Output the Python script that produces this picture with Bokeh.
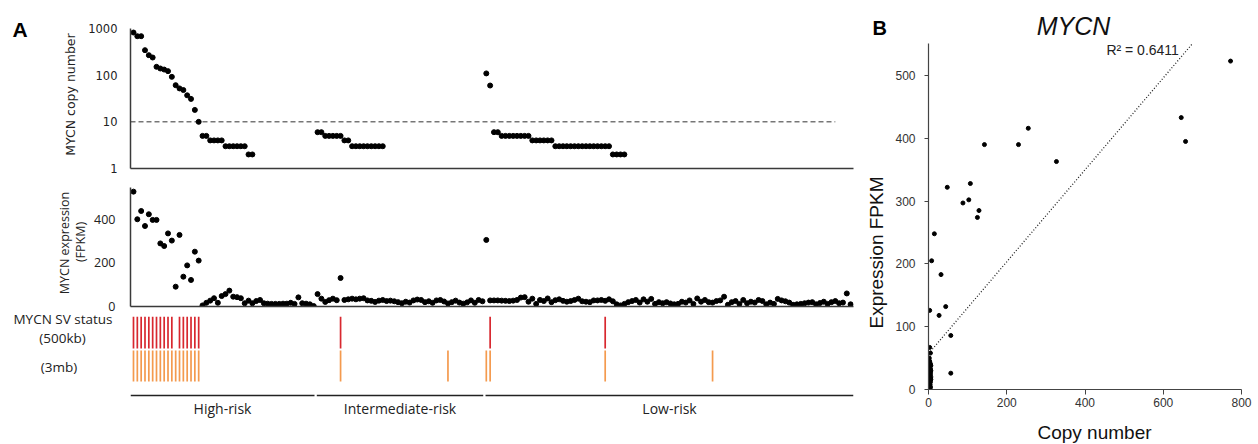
import math
from bokeh.plotting import figure
from bokeh.layouts import row, column
from bokeh.models import Range1d, FixedTicker, PrintfTickFormatter, GridBox
from bokeh.embed import file_html
from bokeh.resources import INLINE
from bokeh.core.properties import value

NAN = float("nan")

# ---------------- data : panel A ----------------
groups = ["High-risk", "Intermediate-risk", "Low-risk"]
group_sizes = [48, 44, 96]

# MYCN copy number per sample (samples without a shown value are left out)
cn_high = [820, 684, 684, 343, 268, 239, 151, 139, 132, 122, 92, 61, 52, 48, 37, 31,
           18, 10, 5, 5, 4, 4, 4, 4, 3, 3, 3, 3, 3, 3, 2, 2]
cn_inter = [6, 6, 5, 5, 5, 5, 5, 4, 4, 3, 3, 3, 3, 3, 3, 3, 3, 3]
cn_low = [109, 60, 6, 6, 5, 5, 5, 5, 5, 5, 5, 5, 4, 4, 4, 4, 4, 4,
          3, 3, 3, 3, 3, 3, 3, 3, 3, 3, 3, 3, 3, 3, 3, 2, 2, 2, 2]

# MYCN expression (FPKM) per sample
expr_high = [528, 401, 439, 370, 424, 398, 398, 290, 278, 336, 303, 91, 329, 137, 189, 122,
             252, 211, 5, 17, 27, 38, 17, 48, 57, 73, 45, 43, 38, 15, 27, 15, 25, 30, 15, 13,
             12, 12, 12, 13, 13, 17, 12, 42, 15, 13, 10, 2]
expr_inter = [57, 36, 21, 29, 36, 29, 131, 30, 33, 36, 33, 36, 38, 28, 26, 21, 27, 30, 25, 27,
              24, 20, 15, 22, 18, 28, 32, 30, 20, 24, 17, 28, 30, 23, 14, 20, 27, 18, 13, 19,
              28, 17, 30, 24]
expr_low = [306, 28, 28, 28, 27, 26, 25, 27, 30, 41,
            43, 22, 36, 12, 30, 25, 37, 20, 29, 33,
            26, 22, 25, 30, 36, 24, 22, 20, 28, 28,
            30, 26, 33, 24, 10, 5, 12, 20, 25, 30,
            18, 33, 22, 35, 12, 20, 15, 20, 14, 10,
            12, 22, 18, 28, 12, 37, 22, 30, 20, 18,
            25, 28, 45, 8, 20, 25, 12, 30, 15, 22,
            18, 30, 25, 10, 18, 12, 35, 28, 24, 18,
            8, 10, 12, 15, 18, 20, 10, 16, 22, 12,
            20, 25, 15, 18, 60, 10]

# sample indices with a MYCN structural variant
sv_500kb = [0, 1, 2, 3, 4, 5, 6, 7, 8, 9, 10, 12, 13, 14, 15, 16, 17, 54, 93, 123]
sv_3mb = [0, 1, 2, 3, 4, 5, 6, 7, 8, 9, 10, 11, 12, 13, 14, 15, 16, 17, 54, 82, 92, 93, 123, 151]

cn_threshold = 10
cn_ticks = [1, 10, 100, 1000]
expr_ticks = [0, 200, 400]

# ---------------- data : panel B ----------------
b_copy = [772, 646, 657, 255, 230, 143, 327, 48, 107, 88, 103, 129, 125, 15, 8, 32, 3, 44, 27,
          57, 57,
          3, 5, 2, 3, 4, 2, 6, 3, 4, 5, 2, 3, 4, 5, 3, 2, 4, 6, 3, 5, 2, 4, 3, 5, 2, 4, 6, 5,
          6, 3, 4, 2, 5]
b_expr = [523, 433, 395, 416, 390, 390, 363, 322, 328, 297, 302, 285, 274, 248, 205, 183, 126,
          132, 118, 86, 26,
          67, 58, 50, 45, 42, 40, 38, 36, 34, 32, 30, 28, 26, 24, 22, 20, 18, 16, 14, 12, 10, 8,
          6, 4, 3, 2, 30, 40, 20, 33, 15, 25, 28]
trend_slope = 0.732
trend_intercept = 57
r2_text = "R\u00b2 = 0.6411"
b_x_ticks = [0, 200, 400, 600, 800]
b_y_ticks = [0, 100, 200, 300, 400, 500]

# ---------------- assemble ----------------
def pad(vals, n):
    return list(vals) + [NAN] * (n - len(vals))

cn = pad(cn_high, group_sizes[0]) + pad(cn_inter, group_sizes[1]) + pad(cn_low, group_sizes[2])
expr = expr_high + expr_inter + expr_low
N = len(expr)
idx = list(range(N))

W, H = 1258, 444
X0, X1 = -0.78, N - 0.25
RED = "#d8282f"
ORANGE = "#f49a4e"
AX = "#3a3a3a"
FA = "DejaVu Sans"
FO = "Open Sans"
FB = "Liberation Sans"


def clean(p):
    p.grid.visible = False
    p.outline_line_color = None
    p.background_fill_color = None
    p.border_fill_color = None


# ---- A1: copy number (log) ----
p1 = figure(width=860, height=178, x_range=Range1d(X0, X1), y_range=Range1d(1, 1000),
            y_axis_type="log", output_backend="svg", toolbar_location=None,
            min_border_left=130, min_border_right=7, min_border_top=28, min_border_bottom=10)
clean(p1)
p1.xaxis.ticker = FixedTicker(ticks=[])
p1.xaxis.major_tick_out = 0
p1.xaxis.major_label_standoff = 0
p1.xaxis.axis_line_width = 1.5
p1.xaxis.axis_line_color = AX
p1.yaxis.ticker = FixedTicker(ticks=cn_ticks)
p1.yaxis.formatter = PrintfTickFormatter(format="%d")
p1.yaxis.major_tick_line_color = None
p1.yaxis.minor_tick_line_color = None
p1.yaxis.major_tick_out = 0
p1.yaxis.major_label_standoff = 13
p1.yaxis.major_label_text_font = FA
p1.yaxis.major_label_text_font_size = "11.5px"
p1.yaxis.major_label_text_color = "#222"
p1.yaxis.axis_line_width = 1.5
p1.yaxis.axis_line_color = AX
p1.segment(x0=[X0], y0=[cn_threshold], x1=[N - 5], y1=[cn_threshold],
           line_color="#333", line_width=1, line_dash="5 3")
p1.scatter(x=idx, y=cn, size=5, color="black")

# ---- A2: expression ----
p2 = figure(width=860, height=138, x_range=p1.x_range, y_range=Range1d(0, 547),
            output_backend="svg", toolbar_location=None,
            min_border_left=130, min_border_right=7, min_border_top=9, min_border_bottom=10)
clean(p2)
p2.xaxis.ticker = FixedTicker(ticks=[])
p2.xaxis.major_tick_out = 0
p2.xaxis.major_label_standoff = 0
p2.xaxis.axis_line_width = 1.5
p2.xaxis.axis_line_color = AX
p2.yaxis.ticker = FixedTicker(ticks=expr_ticks)
p2.yaxis.major_tick_line_color = None
p2.yaxis.minor_tick_line_color = None
p2.yaxis.major_tick_out = 0
p2.yaxis.major_label_standoff = 15
p2.yaxis.major_label_text_font = FO
p2.yaxis.major_label_text_font_size = "12.5px"
p2.yaxis.major_label_text_color = "#222"
p2.yaxis.axis_line_width = 1.5
p2.yaxis.axis_line_color = AX
p2.scatter(x=idx, y=expr, size=5, color="black")

# ---- A3: SV status tracks and risk groups (y in page pixels) ----
A3_TOP = 316
RED_ROW = (316, 348)
ORANGE_ROW = (350, 381)
GROUP_LINE_Y = 395
GROUP_LABEL_Y = 408
p3 = figure(width=860, height=H - A3_TOP, x_range=p1.x_range, y_range=Range1d(H, A3_TOP),
            x_axis_type=None, y_axis_type=None, output_backend="svg", toolbar_location=None,
            min_border_left=130, min_border_right=7, min_border_top=0, min_border_bottom=0)
clean(p3)
p3.segment(x0=sv_500kb, y0=[RED_ROW[0]] * len(sv_500kb), x1=sv_500kb,
           y1=[RED_ROW[1]] * len(sv_500kb), line_color=RED, line_width=1.7)
p3.segment(x0=sv_3mb, y0=[ORANGE_ROW[0]] * len(sv_3mb), x1=sv_3mb,
           y1=[ORANGE_ROW[1]] * len(sv_3mb), line_color=ORANGE, line_width=1.7)
g_start, g_end, g_mid = [], [], []
s = 0
for k, n in enumerate(group_sizes):
    a = s - 0.5 + 0.3 if k > 0 else X0
    b = s + n - 0.5 - 0.3 if k < len(group_sizes) - 1 else X1
    g_start.append(a)
    g_end.append(b)
    g_mid.append((a + b) / 2)
    s += n
p3.segment(x0=g_start, y0=[GROUP_LINE_Y] * 3, x1=g_end, y1=[GROUP_LINE_Y] * 3,
           line_color="#222", line_width=1.5)
p3.text(x=g_mid, y=[GROUP_LABEL_Y] * 3, text=groups, text_font=value(FO),
        text_font_size="14px", text_align="center", text_baseline="middle", text_color="#222")

# ---- B: scatter ----
pB = figure(width=398, height=444, x_range=Range1d(0, 800), y_range=Range1d(0, 551),
            output_backend="svg", toolbar_location=None,
            min_border_left=68, min_border_right=17, min_border_top=43, min_border_bottom=55)
clean(pB)
for ax in (pB.xaxis, pB.yaxis):
    ax.minor_tick_line_color = None
    ax.major_tick_in = 0
    ax.axis_line_color = "#444"
    ax.major_tick_line_color = "#444"
    ax.axis_line_width = 1.2
    ax.major_label_text_font = FB
    ax.major_label_text_font_size = "12px"
    ax.major_label_text_color = "#333"
pB.xaxis.ticker = FixedTicker(ticks=b_x_ticks)
pB.yaxis.ticker = FixedTicker(ticks=b_y_ticks)
pB.xaxis.major_tick_out = 5
pB.xaxis.major_label_standoff = 3
pB.yaxis.major_tick_out = 4
pB.yaxis.major_label_standoff = 9
x_end = (pB.y_range.end - trend_intercept) / trend_slope
pB.line(x=[0, x_end], y=[trend_intercept, trend_intercept + trend_slope * x_end],
        line_color="#222", line_width=1.3, line_dash="1 2")
pB.scatter(x=b_copy, y=b_expr, size=4, color="black")
pB.text(x=[640], y=[540], text=[r2_text], text_font=value(FB), text_font_size="14px",
        text_align="right", text_baseline="middle", text_color="#222")

main = row(column(p1, p2, p3, spacing=0), pB, spacing=0)

# ---- overlay with the free-standing texts (page pixel coordinates) ----
ov = figure(width=W, height=H, x_range=Range1d(0, W), y_range=Range1d(H, 0),
            x_axis_type=None, y_axis_type=None, output_backend="svg", toolbar_location=None,
            min_border=0)
clean(ov)
ROT = math.pi / 2


def ovtext(x, y, t, font, size, style="normal", align="center", baseline="middle",
           angle=0.0, color="#222"):
    ov.text(x=[x], y=[y], text=[t], text_font=value(font), text_font_size=size,
            text_font_style=style, text_align=align, text_baseline=baseline,
            angle=angle, text_color=color)


ovtext(12, 29, "A", FB, "21px", style="bold", align="left", baseline="alphabetic", color="black")
ovtext(70, 94, "MYCN copy number", FA, "12.5px", angle=ROT)
ovtext(63.5, 242.5, "MYCN expression", FO, "12.5px", angle=ROT)
ovtext(80, 241.5, "(FPKM)", FO, "12.5px", angle=ROT)
ovtext(62.5, 318, "MYCN SV status", FO, "13.5px")
ovtext(62, 337, "(500kb)", FO, "13.5px")
ovtext(58.5, 366, "(3mb)", FO, "13.5px")
ovtext(872, 27.5, "B", FB, "20px", style="bold", align="left", baseline="alphabetic",
       color="black")
ovtext(1073, 25, "MYCN", FB, "25px", style="italic", baseline="alphabetic", color="#111")
ovtext(876, 252, "Expression FPKM", FB, "19px", angle=ROT, color="#111")
ovtext(1094, 432, "Copy number", FB, "19px", color="#111")

grid = GridBox(children=[(main, 0, 0), (ov, 0, 0)])
open("out.html", "w").write(file_html(grid, INLINE))
